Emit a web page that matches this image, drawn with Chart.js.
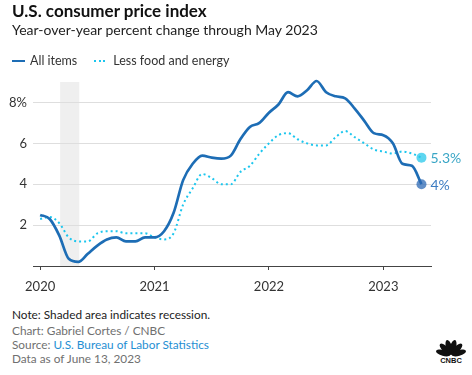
<!DOCTYPE html>
<html>
<head>
<meta charset="utf-8">
<script src="https://cdn.jsdelivr.net/npm/chart.js@4"></script>
<style>
  body { margin: 0; width: 472px; height: 375px; background: #fff; font-family: Lato, "Noto Sans", sans-serif; position: relative; overflow: hidden; }
  .txt { position: absolute; left: 12px; white-space: nowrap; }
  #title { top: 1px; font-size: 17px; font-weight: 700; color: #111; line-height: 20px; }
  #subtitle { top: 21px; font-size: 14px; color: #222; line-height: 18px; }
  #legend { top: 53px; font-size: 12.5px; color: #333; line-height: 16px; }
  #legend .sw { display: inline-block; width: 13px; height: 0; vertical-align: middle; margin-right: 5px; position: relative; top: -1px; }
  #legend .solid { border-top: 2.5px solid #1d6db5; }
  #legend .dots { border-top: 2px dotted #1cc6ee; width: 11px; margin-left: 17px; margin-right: 8px; }
  #chart { position: absolute; left: 0; top: 0; }
  .foot { font-size: 11.8px; line-height: 14.5px; color: #707070; }
  #note { top: 308px; color: #222; }
  #credit { top: 323.5px; }
  #source { top: 338px; }
  #source a { color: #1f8fd3; text-decoration: none; }
  #asof { top: 352px; }
  #logo { position: absolute; left: 435px; top: 339px; }
</style>
</head>
<body>
<canvas id="chart" width="472" height="300"></canvas>
<div class="txt" id="title">U.S. consumer price index</div>
<div class="txt" id="subtitle">Year-over-year percent change through May 2023</div>
<div class="txt" id="legend"><span class="sw solid"></span>All items<span class="sw dots"></span>Less food and energy</div>
<div class="txt foot" id="note">Note: Shaded area indicates recession.</div>
<div class="txt foot" id="credit">Chart: Gabriel Cortes / CNBC</div>
<div class="txt foot" id="source">Source: <a>U.S. Bureau of Labor Statistics</a></div>
<div class="txt foot" id="asof">Data as of June 13, 2023</div>
<svg id="logo" width="32" height="24" viewBox="0 0 32 24">
  <g fill="#111" transform="translate(16,16)">
    <ellipse cx="0" cy="-8" rx="3" ry="7.5" transform="rotate(-75)"/>
    <ellipse cx="0" cy="-8" rx="3" ry="7.5" transform="rotate(-45)"/>
    <ellipse cx="0" cy="-8" rx="3" ry="7.5" transform="rotate(-15)"/>
    <ellipse cx="0" cy="-8" rx="3" ry="7.5" transform="rotate(15)"/>
    <ellipse cx="0" cy="-8" rx="3" ry="7.5" transform="rotate(45)"/>
    <ellipse cx="0" cy="-8" rx="3" ry="7.5" transform="rotate(75)"/>
  </g>
  <text x="16" y="23.5" text-anchor="middle" font-family="Liberation Sans, sans-serif" font-weight="700" font-size="7.5" fill="#111">CNBC</text>
</svg>
<script>
// monthly, Jan 2020 .. May 2023 (year-over-year % change)
const months = [
  'Jan 2020','Feb 2020','Mar 2020','Apr 2020','May 2020','Jun 2020','Jul 2020','Aug 2020','Sep 2020','Oct 2020','Nov 2020','Dec 2020',
  'Jan 2021','Feb 2021','Mar 2021','Apr 2021','May 2021','Jun 2021','Jul 2021','Aug 2021','Sep 2021','Oct 2021','Nov 2021','Dec 2021',
  'Jan 2022','Feb 2022','Mar 2022','Apr 2022','May 2022','Jun 2022','Jul 2022','Aug 2022','Sep 2022','Oct 2022','Nov 2022','Dec 2022',
  'Jan 2023','Feb 2023','Mar 2023','Apr 2023','May 2023'
];
const allItems = [
  2.5, 2.3, 1.5, 0.35, 0.2, 0.6, 1.0, 1.3, 1.4, 1.2, 1.2, 1.4,
  1.4, 1.7, 2.6, 4.2, 5.0, 5.4, 5.3, 5.25, 5.4, 6.2, 6.8, 7.0,
  7.5, 7.9, 8.5, 8.3, 8.6, 9.05, 8.5, 8.3, 8.2, 7.7, 7.1, 6.5,
  6.4, 6.0, 5.0, 4.9, 4.0
];
const lessFoodEnergy = [
  2.3, 2.4, 2.1, 1.4, 1.2, 1.2, 1.6, 1.7, 1.7, 1.6, 1.6, 1.6,
  1.4, 1.3, 1.6, 3.0, 3.8, 4.5, 4.3, 4.0, 4.0, 4.6, 4.9, 5.5,
  6.0, 6.4, 6.5, 6.2, 6.0, 5.9, 5.9, 6.3, 6.6, 6.3, 6.0, 5.7,
  5.6, 5.5, 5.6, 5.5, 5.3
];
const yearLabels = ['2020', '2021', '2022', '2023'];
const yTickValues = [2, 4, 6, 8];
// recession shading, in month positions (Feb-Apr 2020)
const recessionStart = 2.1;
const recessionEnd = 4.1;

const BLUE = '#1d6db5';
const CYAN = '#1cc6ee';
const last = months.length - 1;

const recessionShade = {
  id: 'recessionShade',
  beforeDraw(chart) {
    const { ctx, chartArea, scales } = chart;
    const x0 = scales.x.getPixelForValue(recessionStart);
    const x1 = scales.x.getPixelForValue(recessionEnd);
    ctx.save();
    ctx.fillStyle = '#efefef';
    ctx.fillRect(x0, chartArea.top, x1 - x0, chartArea.bottom - chartArea.top);
    ctx.restore();
  }
};

const endLabels = {
  id: 'endLabels',
  afterDatasetsDraw(chart) {
    const ctx = chart.ctx;
    const colors = ['#3c7cc2', '#3aa6c6'];
    chart.data.datasets.forEach((ds, i) => {
      const pt = chart.getDatasetMeta(i).data[last];
      const v = ds.data[last].y;
      ctx.save();
      ctx.font = '14px Lato, sans-serif';
      ctx.fillStyle = colors[i];
      ctx.textBaseline = 'middle';
      ctx.fillText((Number.isInteger(v) ? v : v.toFixed(1)) + '%', pt.x + 9, pt.y + 1);
      ctx.restore();
    });
  }
};

const ctx = document.getElementById('chart').getContext('2d');
new Chart(ctx, {
  type: 'line',
  data: {
    datasets: [
      {
        label: 'All items',
        data: allItems.map((v, i) => ({ x: i, y: v })),
        borderColor: BLUE,
        borderWidth: 2.7,
        cubicInterpolationMode: 'monotone',
        clip: false,
        pointRadius: c => c.dataIndex === last ? 5 : 0,
        pointBackgroundColor: 'rgba(45, 105, 180, 0.75)',
        pointBorderWidth: 0
      },
      {
        label: 'Less food and energy',
        data: lessFoodEnergy.map((v, i) => ({ x: i, y: v })),
        borderColor: CYAN,
        borderWidth: 2,
        borderDash: [2, 3],
        cubicInterpolationMode: 'monotone',
        clip: false,
        pointRadius: c => c.dataIndex === last ? 5 : 0,
        pointBackgroundColor: 'rgba(40, 200, 235, 0.75)',
        pointBorderWidth: 0
      }
    ]
  },
  options: {
    responsive: false,
    animation: false,
    layout: { padding: { top: 82, right: 41, left: 0, bottom: 0 } },
    plugins: { legend: { display: false }, tooltip: { enabled: false } },
    scales: {
      x: {
        type: 'linear',
        min: -0.75,
        max: 41,
        afterBuildTicks: s => { s.ticks = yearLabels.map((t, i) => ({ value: i * 12 })); },
        afterFit: s => { s.height = 34; },
        ticks: {
          callback: v => yearLabels[v / 12],
          color: '#333',
          font: { family: 'Lato', size: 13 },
          padding: 9,
          maxRotation: 0,
          autoSkip: false
        },
        grid: { drawOnChartArea: false, drawTicks: true, tickLength: 4, tickColor: '#444' },
        border: { color: '#444', width: 1 }
      },
      y: {
        min: 0,
        max: 9,
        afterBuildTicks: s => { s.ticks = yTickValues.map(v => ({ value: v })); },
        afterFit: s => { s.width = 33; },
        ticks: {
          callback: v => v === 8 ? '8%' : String(v),
          color: '#333',
          font: { family: 'Lato', size: 13 },
          padding: 6
        },
        grid: { color: '#dedede', drawTicks: false },
        border: { display: false }
      }
    }
  },
  plugins: [recessionShade, endLabels]
});
</script>
</body>
</html>
